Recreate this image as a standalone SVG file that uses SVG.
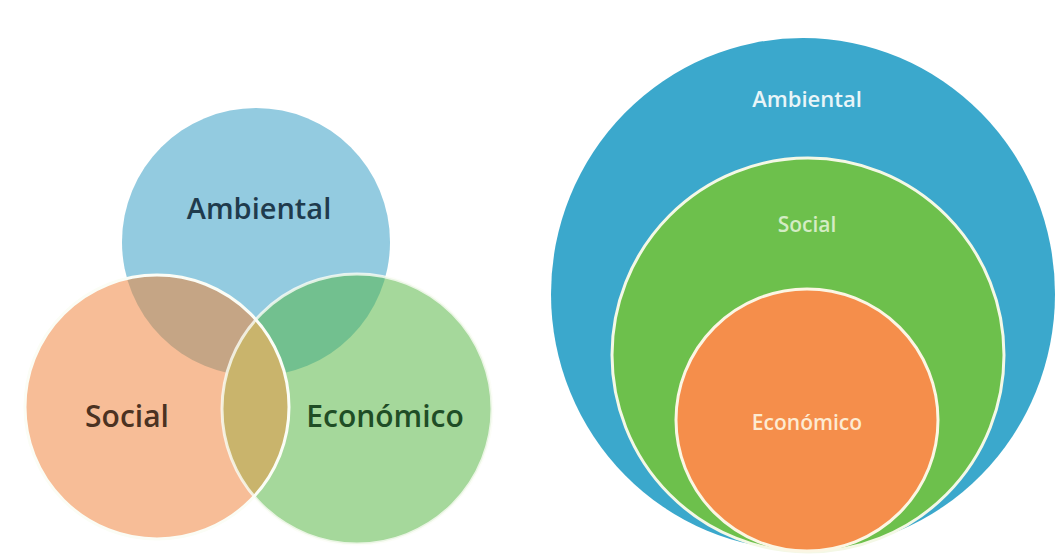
<svg xmlns="http://www.w3.org/2000/svg" width="1059" height="558" viewBox="0 0 1059 558">
<style>
.lbl{font-family:"Open Sans","Liberation Sans",sans-serif;font-weight:600;text-anchor:middle}
.edge{fill:none;stroke:#fbfdf6;stroke-width:3}
</style>
<defs>
<clipPath id="cA"><circle cx="256" cy="242" r="134"/></clipPath>
<clipPath id="cS"><circle cx="157" cy="407" r="132"/></clipPath>
<clipPath id="cE"><circle cx="357" cy="409" r="135"/></clipPath>
</defs>
<rect width="1059" height="558" fill="#ffffff"/>
<g id="venn">
<g id="ambiental-l"><circle cx="256" cy="242" r="134" fill="#93cbe0"/></g>
<g id="social-l"><circle cx="157" cy="407" r="132" fill="#f7bd97"/></g>
<g id="economico-l"><circle cx="357" cy="409" r="135" fill="#a5d89b"/></g>
<g id="overlaps">
<g clip-path="url(#cA)"><circle cx="157" cy="407" r="132" fill="#c5a585"/><circle cx="357" cy="409" r="135" fill="#72c08f"/></g>
<g clip-path="url(#cS)"><circle cx="357" cy="409" r="135" fill="#c9b46c"/></g>
</g>
<circle class="edge" cx="157" cy="407" r="132"/>
<circle class="edge" cx="357" cy="409" r="135" stroke-opacity="0.8"/>
<text class="lbl" x="259" y="219" font-size="29" fill="#1f3b4d">Ambiental</text>
<text class="lbl" x="127" y="427" font-size="30" fill="#4b3222">Social</text>
<text class="lbl" x="385" y="427" font-size="30" fill="#1f4d26">Económico</text>
</g>
<g id="nested">
<g id="ambiental-r"><ellipse cx="803" cy="294" rx="252" ry="256" fill="#3ba8cc"/>
<text class="lbl" x="807" y="107" font-size="22" font-weight="700" fill="#e9f5f8">Ambiental</text></g>
<g id="social-r"><ellipse cx="808" cy="355" rx="196" ry="197" fill="#6dc04c" stroke="#f4f8e6" stroke-width="3"/>
<text class="lbl" x="807" y="232" font-size="21" font-weight="700" fill="#d4ecc4">Social</text></g>
<g id="economico-r"><circle cx="807" cy="420" r="131" fill="#f58e4b" stroke="#fbf6e4" stroke-width="3"/>
<text class="lbl" x="807" y="430" font-size="21" font-weight="700" fill="#fdebd2">Económico</text></g>
</g>
</svg>
